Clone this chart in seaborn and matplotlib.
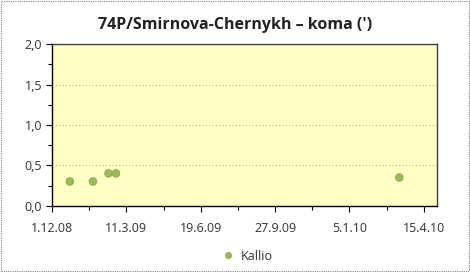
import matplotlib
matplotlib.use("Agg")
import matplotlib.pyplot as plt
import matplotlib.dates as mdates
import matplotlib.ticker as mticker
from matplotlib.patches import Rectangle
import seaborn as sns
import pandas as pd
import datetime as dt

dates = ["2008-12-25", "2009-01-25", "2009-02-15", "2009-02-25", "2010-03-13"]
coma = [0.3, 0.3, 0.4, 0.4, 0.35]
observer = ["Kallio"] * 5
tick_start = "2008-12-01"
title = "74P/Smirnova-Chernykh \u2013 koma (')"

df = pd.DataFrame({"date": pd.to_datetime(dates), "coma": coma, "observer": observer})

sns.set_theme(style="white")
plt.rcParams["font.family"] = ["Open Sans", "DejaVu Sans"]

fig = plt.figure(figsize=(4.7, 2.72), dpi=100)
ax = fig.add_axes([52/470, 1-205.7/272, (436.5-52)/470, (205.7-44.3)/272])
ax.set_facecolor("#FFFFC6")

sns.scatterplot(data=df, x="date", y="coma", hue="observer", palette=["#9BBB59"],
                s=30, edgecolor="#86A84A", linewidth=0.6, ax=ax, zorder=3)

t0 = pd.Timestamp(tick_start)
major = [t0 + pd.Timedelta(days=100*k) for k in range(6)]
minor = [t0 + pd.Timedelta(days=50*k) for k in range(11)]
ax.set_xlim(mdates.date2num(t0), mdates.date2num(t0 + pd.Timedelta(days=517)))
ax.xaxis.set_major_locator(mticker.FixedLocator(mdates.date2num(major)))
ax.xaxis.set_minor_locator(mticker.FixedLocator(mdates.date2num(minor)))
ax.xaxis.set_major_formatter(mticker.FuncFormatter(
    lambda v, p: (lambda d: f"{d.day}.{d.month}.{d.strftime('%y')}")(mdates.num2date(v))))

ax.set_ylim(0, 2.0)
ax.yaxis.set_major_locator(mticker.MultipleLocator(0.5))
ax.yaxis.set_minor_locator(mticker.MultipleLocator(0.25))
ax.yaxis.set_major_formatter(mticker.FuncFormatter(lambda v, p: f"{v:.1f}".replace(".", ",")))

ax.grid(axis="y", which="major", color="#B5B57A", linestyle=(0, (1, 2)), linewidth=0.8)
ax.set_axisbelow(True)

for sp in ax.spines.values():
    sp.set_visible(True)
    sp.set_color("#404040")
    sp.set_linewidth(1.0)
ax.spines["left"].set_color("black")
ax.spines["bottom"].set_color("black")

ax.tick_params(axis="both", which="major", direction="out", length=4, width=0.8,
               color="black", labelsize=9, labelcolor="#333333", bottom=True, left=True)
ax.tick_params(axis="both", which="minor", direction="out", length=3, width=0.8,
               color="black", bottom=True, left=True)
ax.tick_params(axis="x", pad=8)
ax.tick_params(axis="y", pad=3)
ax.set_xlabel("")
ax.set_ylabel("")

leg = ax.legend(loc="center", bbox_to_anchor=(244/470, 1-256/272), bbox_transform=fig.transFigure,
                frameon=False, fontsize=9, handletextpad=0.0, markerscale=0.8)
for t in leg.get_texts():
    t.set_color("#333333")

fig.text(0.5, 1-25/272, title, ha="center", va="center", fontsize=11.5, fontweight="bold",
         color="#222222")

fig.patches.append(Rectangle((0.002, 0.004), 0.996, 0.992, transform=fig.transFigure,
                             fill=False, edgecolor="#888888", linestyle=(0, (1, 1)), linewidth=0.8))

fig.savefig("out.png", dpi=100)
